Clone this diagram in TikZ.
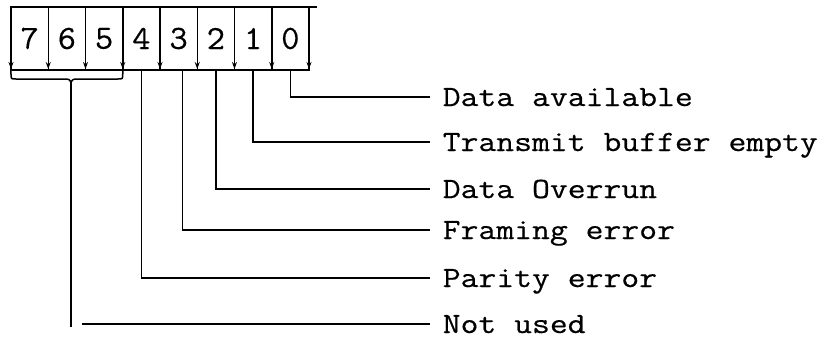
\documentclass[tikz,border=0pt]{standalone}
\usepackage{fontspec}
\setmonofont{Latin Modern Mono}[FakeStretch=1.18,FakeBold=0.5]
\newfontfamily\digfont{Latin Modern Mono}[FakeStretch=1.05,FakeBold=0.3]
\usetikzlibrary{arrows.meta}
\begin{document}
\begin{tikzpicture}[x=1bp,y=-1bp,
  line width=1.5bp,
  cell/.style={draw, minimum width=37.25bp, minimum height=63bp, inner sep=0pt, outer sep=0pt, font=\digfont\fontsize{34}{34}\selectfont},
  lab/.style={anchor=base west, inner sep=0pt, font=\ttfamily\fontsize{29.5}{30}\selectfont},
  tick/.style={-{Stealth[length=7bp,width=5bp]}, line width=1bp},
  conn/.style={line width=1.5bp}]
\useasboundingbox (0,0) rectangle (837,346);
% register cells
\foreach \b [count=\i from 0] in {7,6,5,4,3,2,1,0}
  \node[cell] (c\b) at ({11+37.25*(\i+0.5)},38.5) {\b};
\draw (c0.north east) -- ++(8,0);
% small arrows at the foot of each divider
\foreach \b in {7,6,5,4,3,2,1,0}
  \draw[tick] (c\b.south west) ++(0,-14) -- ++(0,13);
\draw[tick] (c0.south east) ++(0,-14) -- ++(0,13);
% brace under bits 7-5
\coordinate (br) at (71,85);
\draw (c7.south west) -- ++(0,4) .. controls ++(0,5) and (11,79) .. (16,79) -- (66,79)
  .. controls (70,79) and (71,81) .. (br);
\draw (c5.south east) -- ++(0,4) .. controls ++(0,5) and (122.75,79) .. (117.75,79) -- (76,79)
  .. controls (72,79) and (71,81) .. (br);
% labels
\node[lab] (l0) at (442,106) {Data available};
\node[lab] (l1) at (442,151) {Transmit buffer empty};
\node[lab] (l2) at (442,198) {Data Overrun};
\node[lab] (l3) at (442,239) {Framing error};
\node[lab] (l4) at (442,287) {Parity error};
\node[lab] (l5) at (442,333) {Not used};
\coordinate (e0) at (430,97);
\coordinate (e1) at (430,142);
\coordinate (e2) at (430,189);
\coordinate (e3) at (430,230);
\coordinate (e4) at (430,278);
\coordinate (e5) at (430,324);
\coordinate (s5) at (82,324);
% connectors
\draw[conn] (c0.south) |- (e0);
\draw[conn] (c1.south) |- (e1);
\draw[conn] (c2.south) |- (e2);
\draw[conn] ([xshift=4bp]c3.south) |- (e3);
\draw[conn] (c4.south) |- (e4);
\draw[conn] (br) -- (br |- 0,327);
\draw[conn] (s5) -- (e5);
\end{tikzpicture}
\end{document}
